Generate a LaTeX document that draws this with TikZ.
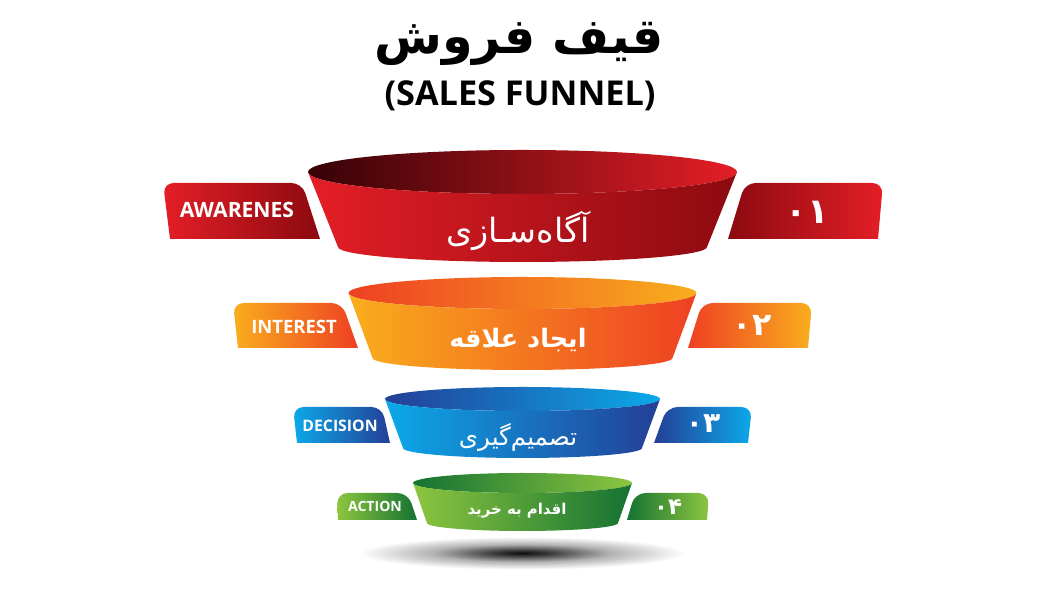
\documentclass[tikz,border=0pt]{standalone}
\usepackage{fontspec}
\setmainfont{Open Sans}
\newfontfamily\arabicfont[Script=Arabic]{DejaVu Sans}
\TeXXeTstate=1
\definecolor{redL}{HTML}{E41E26}
\definecolor{redD}{HTML}{8C0A10}
\definecolor{redIn}{HTML}{360206}
\definecolor{oraL}{HTML}{F9AE1D}
\definecolor{oraD}{HTML}{EE4023}
\definecolor{bluL}{HTML}{0BA9E9}
\definecolor{bluD}{HTML}{243F97}
\definecolor{grnL}{HTML}{8DC63F}
\definecolor{grnD}{HTML}{147232}
\pgfdeclareradialshading{floorshadow}{\pgfpoint{0bp}{0bp}}{color(0bp)=(black!95); color(4.5bp)=(black!75); color(13bp)=(black!30); color(24bp)=(white); color(50bp)=(white)}

\begin{document}
\begin{tikzpicture}[x=0.02cm,y=0.02cm,
  tabtext/.style={text=white,inner sep=0pt,font=\bfseries},
  cuptext/.style={text=white,inner sep=0pt}]
\useasboundingbox (0,0) rectangle (1050,590);

\shade[shading=floorshadow] (522,37) ellipse [x radius=170, y radius=17];

\foreach \lc/\dc/\ic/\cy/\rx/\ry/\by/\bw/\bd in {
  redL/redD/redIn/418/214.5/22/343/184.5/15,
  oraL/oraD/oraD/297/174/16/232/150/12,
  bluL/bluD/bluD/191/137.5/12/142/119.5/10,
  grnL/grnD/grnD/107/109.5/10/67/95.5/8} {
\shade[left color=\ic, right color=\lc] (522.5,\cy) ellipse [x radius=\rx, y radius=\ry];
\shade[left color=\lc, right color=\dc] (522.5-\rx,\cy)
  arc [start angle=180, end angle=360, x radius=\rx, y radius=\ry]
  -- (522.5+\bw,\by) arc [start angle=0, end angle=-180, x radius=\bw, y radius=\bd] -- cycle;
}

\foreach \lc/\dc/\bl/\br/\tl/\tr/\yb/\yt in {
  redL/redD/170/320/163/302/351/407,
  oraL/oraD/238/358/233/342/242/287,
  bluL/bluD/297/390/293/382/147/183,
  grnL/grnD/338/417/337/408/70/97} {
\shade[left color=\lc, right color=\dc] (\br,\yb) -- (\bl,\yb) [rounded corners=6pt] -- (\tl,\yt) -- (\tr,\yt) [sharp corners] -- cycle;
}

\foreach \dc/\lc/\bl/\br/\tl/\tr/\yb/\yt in {
  redD/redL/728/878/745/883/351/407,
  oraD/oraL/688/808/702/812/242/287,
  bluD/bluL/654/748/667/752/147/183,
  grnD/grnL/627/707/635/709/70/97} {
\shade[left color=\dc, right color=\lc] (\bl,\yb) -- (\br,\yb) [rounded corners=6pt] -- (\tr,\yt) -- (\tl,\yt) [sharp corners] -- cycle;
}

\node (title) at (519,546) {\arabicfont\bfseries\fontsize{28}{34}\selectfont\beginR قیف فروش\endR};
\node (subtitle) at (520,494) [font=\bfseries\fontsize{19.5}{23}\selectfont] {(SALES FUNNEL)};

\node (cup1) at (518,359) [cuptext] {\arabicfont\fontsize{19}{22}\selectfont\beginR آگاه‌سـازی\endR};
\node (cup2) at (518,250) [cuptext] {\arabicfont\bfseries\fontsize{14.5}{17}\selectfont\beginR ایجاد علاقه\endR};
\node (cup3) at (518,153) [cuptext] {\arabicfont\fontsize{14}{17}\selectfont\beginR تصمیم‌گیری\endR};
\node (cup4) at (517,79) [cuptext] {\arabicfont\bfseries\fontsize{8.5}{10}\selectfont\beginR اقدام به خرید\endR};

\node (aware) at (237,380) [tabtext,font=\bfseries\fontsize{12}{14}\selectfont] {AWARENES};
\node (interest) at (294,263) [tabtext,font=\bfseries\fontsize{10.5}{12}\selectfont] {INTEREST};
\node (decision) at (340,164) [tabtext,font=\bfseries\fontsize{9}{11}\selectfont] {DECISION};
\node (action) at (375,84) [tabtext,font=\bfseries\fontsize{8}{10}\selectfont] {ACTION};

\node (num1) at (807,378) [tabtext] {\arabicfont\bfseries\fontsize{20}{22}\selectfont ۰۱};
\node (num2) at (752,265) [tabtext] {\arabicfont\bfseries\fontsize{18}{20}\selectfont ۰۲};
\node (num3) at (703,166) [tabtext] {\arabicfont\bfseries\fontsize{16}{18}\selectfont ۰۳};
\node (num4) at (668,83) [tabtext] {\arabicfont\bfseries\fontsize{13}{15}\selectfont ۰۴};
\end{tikzpicture}
\end{document}
